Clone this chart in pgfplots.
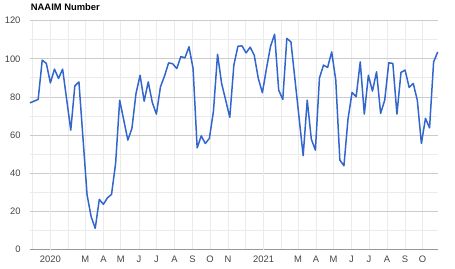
\documentclass[border=0pt]{standalone}
\usepackage{fontspec}
\setmainfont{Liberation Sans}
\usepackage{pgfplots}
\usepackage{pgfplotstable}
\pgfplotsset{compat=1.18}
\definecolor{linecol}{HTML}{3366CC}
\definecolor{gridmaj}{HTML}{CCCCCC}
\definecolor{gridmin}{HTML}{EBEBEB}
\definecolor{yeargrid}{HTML}{D0D0D0}
\definecolor{axiscol}{HTML}{999999}
\definecolor{labcol}{HTML}{444444}
% days since 2020-01-01, NAAIM number
\pgfplotstableread{
d v
-35 76.9
-21 78.7
-14 99.3
-7 97.6
0 87.4
7 94.6
14 89.7
21 94.6
35 62.6
42 85.8
49 87.9
63 28.6
70 17.2
77 11.1
84 26.3
91 23.7
98 27.1
105 28.9
112 45.2
119 78.3
133 57.4
140 63.5
147 81.8
154 91.4
161 77.8
168 87.9
175 77.1
182 71.0
189 85.3
196 91.0
203 97.9
210 97.4
217 94.9
224 101.2
231 100.5
238 106.3
245 94.9
252 53.3
259 59.6
266 55.6
273 58.3
280 72.6
287 102.4
294 87.1
301 78.3
308 69.3
315 96.7
322 106.6
329 106.8
336 103.1
343 106.1
350 101.9
357 89.7
364 82.2
371 94.9
378 106.6
385 112.9
392 83.6
399 78.7
406 110.7
413 108.9
434 49.2
441 78.3
448 57.9
455 52.1
462 90.0
469 96.7
476 95.5
483 103.6
490 88.8
497 46.9
504 43.9
511 68.4
518 82.4
525 80.1
532 98.4
539 71.0
546 91.4
553 83.1
560 93.2
567 71.4
574 78.3
581 97.9
588 97.6
595 71.0
602 92.9
609 94.1
616 85.0
623 87.1
630 78.3
637 55.6
644 68.8
651 63.8
658 98.4
665 103.6
}\naaim
\begin{document}
\begin{tikzpicture}
\useasboundingbox (0,0) rectangle (455bp,269bp);
\node[anchor=base west, inner sep=0pt, font=\fontsize{9.4bp}{11bp}\selectfont\bfseries] at (30.7bp,258.3bp) {NAAIM Number};
\begin{axis}[
  at={(30bp,19.5bp)}, anchor=south west,
  scale only axis, width=407.7bp, height=228.8bp,
  xmin=-35, xmax=665, ymin=0, ymax=120,
  axis x line*=bottom, axis y line*=left,
  x axis line style={draw=axiscol, line width=1bp, -},
  y axis line style={draw=none},
  ytick={0,20,...,120}, minor y tick num=1,
  ymajorgrids, yminorgrids,
  y grid style={draw=gridmaj, line width=0.8bp},
  minor y grid style={draw=gridmin, line width=0.8bp},
  xtick={-31,31,60,91,121,152,182,213,244,274,305,335,397,425,456,486,517,547,578,609,639},
  xticklabels={,,M,A,M,J,J,A,S,O,N,,,M,A,M,J,J,A,S,O},
  xmajorgrids,
  x grid style={draw=gridmin, line width=0.8bp},
  extra x ticks={0,366},
  extra x tick labels={2020,2021},
  extra x tick style={grid style={draw=yeargrid, line width=1.2bp}},
  major tick length=0pt, minor tick length=0pt,
  tick style={draw=none},
  /pgf/number format/assume math mode=true,
  ticklabel style={font=\fontsize{9.4bp}{11bp}\selectfont, text=labcol},
  xticklabel style={yshift=-3.4bp},
  yticklabel style={xshift=-6bp},
  clip=false,
]
\addplot[draw=linecol, line width=1.5bp, line join=round, no marks] table[x=d, y=v] {\naaim};
\end{axis}
\end{tikzpicture}
\end{document}
